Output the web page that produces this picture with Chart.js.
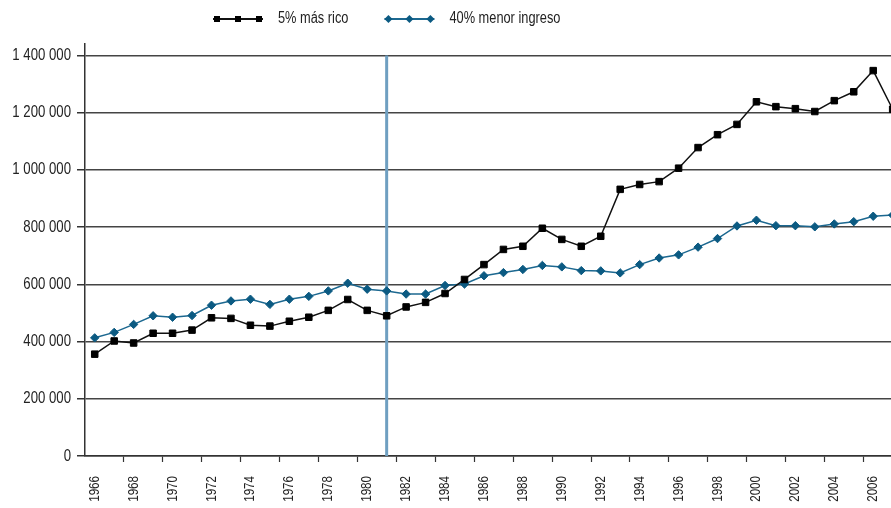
<!DOCTYPE html>
<html>
<head>
<meta charset="utf-8">
<script src="https://cdn.jsdelivr.net/npm/chart.js@4"></script>
<style>
  html, body { margin: 0; padding: 0; background: #fff; overflow: hidden; }
  #wrap { width: 891px; height: 508px; overflow: hidden; }
  canvas { display: block; }
</style>
</head>
<body>
<div id="wrap"><canvas id="incomeChart" width="908" height="508"></canvas></div>
<script>
const YEARS = [1966, 1967, 1968, 1969, 1970, 1971, 1972, 1973, 1974, 1975,
    1976, 1977, 1978, 1979, 1980, 1981, 1982, 1983, 1984, 1985,
    1986, 1987, 1988, 1989, 1990, 1991, 1992, 1993, 1994, 1995,
    1996, 1997, 1998, 1999, 2000, 2001, 2002, 2003, 2004, 2005,
    2006, 2007]
const RICH_5 = [356000, 402000, 395000, 429000, 429000, 440000, 483000, 481000, 457000, 454000,
    471000, 485000, 509000, 547000, 509000, 490000, 521000, 537000, 568000, 617000,
    669000, 722000, 733000, 796000, 757000, 733000, 768000, 932000, 949000, 959000,
    1006000, 1078000, 1123000, 1159000, 1238000, 1221000, 1214000, 1204000, 1242000, 1273000,
    1347000, 1212000]
const POOR_40 = [413000, 432000, 460000, 490000, 485000, 491000, 527000, 542000, 548000, 530000,
    548000, 558000, 577000, 604000, 583000, 577000, 566000, 566000, 596000, 601000,
    630000, 641000, 652000, 666000, 661000, 648000, 647000, 640000, 669000, 692000,
    703000, 730000, 760000, 804000, 824000, 805000, 805000, 801000, 811000, 819000,
    838000, 842000]
const Y_TICKS = [0, 200000, 400000, 600000, 800000, 1000000, 1200000, 1400000]
const MARK_YEAR = 1981

const FONT = "'Liberation Sans', Arial, sans-serif"
const TEXT_COLOR = '#222'
// the original uses a condensed face; squeeze all canvas text by this factor
const NARROW = 0.8

function withSpaces(v) {
    return String(v).replace(/\B(?=(\d{3})+(?!\d))/g, ' ')
}

const narrowText = {
    id: 'narrowText',
    beforeInit(chart) {
        const ctx = chart.ctx
        const fill = ctx.fillText.bind(ctx)
        ctx.fillText = function (text, x, y, maxWidth) {
            ctx.save()
            ctx.translate(x, y)
            ctx.scale(NARROW, 1)
            if (maxWidth === undefined) fill(text, 0, 0)
            else fill(text, 0, 0, maxWidth / NARROW)
            ctx.restore()
        }
    }
}

// vertical reference line at MARK_YEAR
const markerLine = {
    id: 'markerLine',
    beforeDatasetsDraw(chart) {
        const { ctx, scales: { x, y } } = chart
        const px = x.getPixelForValue(YEARS.indexOf(MARK_YEAR))
        ctx.save()
        ctx.strokeStyle = '#6f9fc1'
        ctx.lineWidth = 3
        ctx.beginPath()
        ctx.moveTo(px, y.getPixelForValue(Y_TICKS[Y_TICKS.length - 1]))
        ctx.lineTo(px, y.getPixelForValue(0))
        ctx.stroke()
        ctx.restore()
    }
}

// legend: line sample with three markers, then the label
const lineLegend = {
    id: 'lineLegend',
    afterDraw(chart) {
        const { ctx } = chart
        const cy = 19
        let x = 213
        ctx.save()
        ctx.font = '16px ' + FONT
        ctx.textBaseline = 'middle'
        chart.data.datasets.forEach(ds => {
            ctx.strokeStyle = ds.borderColor
            ctx.lineWidth = 2
            ctx.beginPath()
            ctx.moveTo(x, cy)
            ctx.lineTo(x + 50, cy)
            ctx.stroke()
            ctx.fillStyle = ds.pointBackgroundColor;
            [x + 4, x + 25, x + 46].forEach(mx => {
                ctx.beginPath()
                if (ds.pointStyle === 'rect') {
                    ctx.rect(mx - 3, cy - 3, 6, 6)
                } else {
                    ctx.moveTo(mx, cy - 4)
                    ctx.lineTo(mx + 4, cy)
                    ctx.lineTo(mx, cy + 4)
                    ctx.lineTo(mx - 4, cy)
                    ctx.closePath()
                }
                ctx.fill()
            })
            ctx.fillStyle = TEXT_COLOR
            ctx.fillText(ds.label, x + 65, cy)
            x += 65 + ctx.measureText(ds.label).width * NARROW + 36
        })
        ctx.restore()
    }
}

const incomeChart = new Chart(document.getElementById('incomeChart'), {
    type: 'line',
    data: {
        labels: YEARS,
        datasets: [
            {
                label: '5% más rico',
                data: RICH_5,
                borderColor: '#111',
                borderWidth: 1.5,
                pointStyle: 'rect',
                pointRadius: 4.6,
                pointBorderWidth: 1,
                pointBackgroundColor: '#000',
                pointBorderColor: '#000',
                tension: 0
            },
            {
                label: '40% menor ingreso',
                data: POOR_40,
                borderColor: '#1c6890',
                borderWidth: 1.5,
                pointStyle: 'rectRot',
                pointRadius: 4.2,
                pointBorderWidth: 1,
                pointBackgroundColor: '#0b5a82',
                pointBorderColor: '#0b5a82',
                tension: 0
            }
        ]
    },
    options: {
        responsive: false,
        animation: false,
        devicePixelRatio: 1,
        layout: { padding: { top: 44, right: 0, left: 0, bottom: 0 } },
        plugins: {
            legend: { display: false },
            tooltip: { enabled: false }
        },
        scales: {
            x: {
                type: 'category',
                offset: true,
                border: { color: '#333', width: 1.5 },
                grid: {
                    offset: true,
                    drawOnChartArea: false,
                    tickLength: 6,
                    tickWidth: 1.2,
                    tickColor: c => (c.index > 0 && c.index % 2 === 0) ? '#333' : 'rgba(0,0,0,0)'
                },
                ticks: {
                    autoSkip: false,
                    minRotation: 90,
                    maxRotation: 90,
                    padding: 14,
                    color: TEXT_COLOR,
                    font: { family: FONT, size: 14.5 },
                    callback: (v, i) => i % 2 === 0 ? String(YEARS[i]) : ''
                },
                afterFit: s => {
                    s.height = 52
                    s.paddingLeft = 0
                    s.paddingRight = 0
                }
            },
            y: {
                min: 0,
                max: 1440000,
                afterBuildTicks: axis => { axis.ticks = Y_TICKS.map(v => ({ value: v })) },
                border: { color: '#333', width: 1.5 },
                grid: { color: '#444', lineWidth: 1.5, tickLength: 8, tickColor: '#333' },
                ticks: {
                    padding: 6,
                    color: TEXT_COLOR,
                    font: { family: FONT, size: 16.5 },
                    callback: v => withSpaces(v)
                },
                afterFit: s => { s.width = 85 }
            }
        }
    },
    plugins: [narrowText, markerLine, lineLegend]
})
</script>
</body>
</html>
